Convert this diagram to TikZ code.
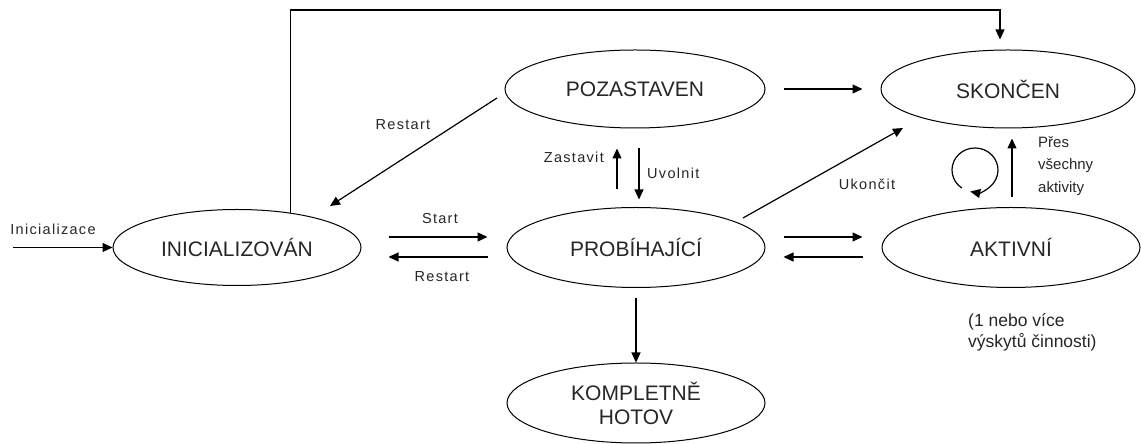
\documentclass[tikz,border=0pt]{standalone}
\usepackage{fontspec}
\setmainfont{Liberation Sans}
\newfontfamily\lblfont[LetterSpace=9]{Liberation Sans}
\usetikzlibrary{shapes.geometric,arrows.meta}

\begin{document}
\begin{tikzpicture}[x=1pt,y=1pt,
  state/.style={draw, ellipse, line width=1pt, inner sep=0pt,
    font=\fontsize{21}{24}\selectfont, text=black!85, align=center},
  arr/.style={line width=1.2pt, -{Triangle[length=10pt,width=9pt]}},
  lbl/.style={font=\lblfont\fontsize{14.5}{17}\selectfont, inner sep=0pt, text=black!85},
  note/.style={inner sep=0pt, text=black!85, align=left},
]
\useasboundingbox (0,0) rectangle (1141,444);

% states
\node[state, minimum width=248pt, minimum height=76pt] (ini)  at (237,196.5) {INICIALIZOVÁN};
\node[state, minimum width=260pt, minimum height=78pt] (poz)  at (635,355)   {POZASTAVEN};
\node[state, minimum width=254pt, minimum height=78pt] (sko)  at (1008,355)  {SKONČEN};
\node[state, minimum width=258pt, minimum height=80pt] (prob) at (636,196.5) {PROBÍHAJÍCÍ};
\node[state, minimum width=258pt, minimum height=80pt] (akt)  at (1011,196.5) {AKTIVNÍ};
\node[state, minimum width=258pt, minimum height=80pt] (komp) at (636,41)    {KOMPLETNĚ\\HOTOV};

% initial transition
\coordinate (init) at (13,196.5);
\draw[arr] (init) -- (ini.west);
\node[lbl] (linit) at (53,215) {Inicializace};

% long path over the top to the end state
\coordinate (topr) at (1000,434);
\draw[arr] (ini.33) |- (topr) -- ([xshift=-8pt,yshift=10pt]sko.north);

% restart from paused
\coordinate (rsa) at (497,346);
\coordinate (rsb) at (330,238);
\draw[arr] (rsa) -- (rsb);
\node[lbl] (lrs1) at (403,319) {Restart};

% pause / release
\draw[arr] ([xshift=-19pt,yshift=17.5pt]prob.north) -- ([xshift=-18pt,yshift=-20pt]poz.south);
\draw[arr] ([xshift=4pt,yshift=-20pt]poz.south) -- ([xshift=3pt,yshift=7.5pt]prob.north);
\node[lbl, anchor=east] (lzas) at (604,287) {Zastavit};
\node[lbl, anchor=west] (luvo) at (647,271) {Uvolnit};

% start / restart
\draw[arr] ([xshift=27pt,yshift=10.5pt]ini.east) -- ([xshift=-19pt,yshift=10.5pt]prob.west);
\draw[arr] ([xshift=-19pt,yshift=-9.5pt]prob.west) -- ([xshift=27pt,yshift=-9.5pt]ini.east);
\node[lbl] (lstart) at (440,225) {Start};
\node[lbl] (lrs2) at (442,167) {Restart};

% paused -> finished
\draw[arr] ([xshift=18pt]poz.east) -- ([xshift=-18pt]sko.west);

% terminate
\coordinate (uka) at (743,226);
\coordinate (ukb) at (903,316);
\draw[arr] (uka) -- (ukb);
\node[lbl] (luk) at (867,260) {Ukončit};

% running <-> active
\draw[arr] ([xshift=18pt,yshift=10.5pt]prob.east) -- ([xshift=-19pt,yshift=10.5pt]akt.west);
\draw[arr] ([xshift=-19pt,yshift=-9.5pt]akt.west) -- ([xshift=18pt,yshift=-9.5pt]prob.east);

% running -> completed
\draw[arr] ([yshift=-10pt]prob.south) -- (komp.north);

% all activities done
\draw[arr] ([xshift=1pt,yshift=10pt]akt.north) -- ([xshift=4pt,yshift=-10pt]sko.south);
\node[note, anchor=north west, font=\fontsize{15}{22.5}\selectfont] (lpres) at (1038,308)
  {Přes\\všechny\\aktivity};

% self loop
\coordinate (lc) at (975,274);
\draw[arr] (lc) ++(235:23pt and 22pt) arc[start angle=595, end angle=258, x radius=23pt, y radius=22pt];

% multiplicity note
\node[note, anchor=north west, font=\fontsize{17.5}{21.5}\selectfont] (lmult) at (968,131)
  {(1 nebo více\\výskytů činnosti)};
\end{tikzpicture}
\end{document}
